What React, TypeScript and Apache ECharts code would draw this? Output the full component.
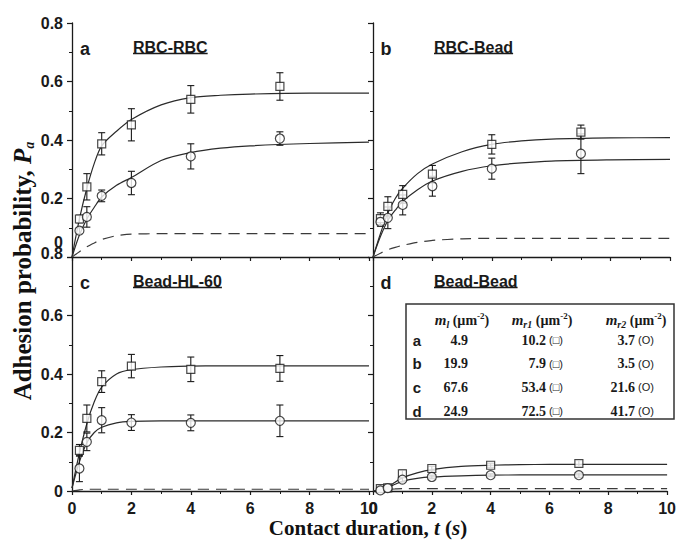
import React, { useEffect, useRef } from 'react';
import * as echarts from 'echarts';

// ---------- data ----------
const sampleTimes = [0.25, 0.5, 1, 2, 4, 7];
const curveTimes = [0, 0.25, 0.5, 0.75, 1, 1.5, 2, 3, 4, 5, 6, 8, 10];

const panelLetters = ['a', 'b', 'c', 'd'];
const panelNames = ['RBC-RBC', 'RBC-Bead', 'Bead-HL-60', 'Bead-Bead'];

// panel a
const squareA = [0.13, 0.24, 0.387, 0.452, 0.539, 0.583];
const squareErrA = [0.013, 0.045, 0.038, 0.055, 0.047, 0.047];
const circleA = [0.09, 0.137, 0.209, 0.253, 0.344, 0.405];
const circleErrA = [0.01, 0.035, 0.02, 0.04, 0.043, 0.023];
const squareCurveA = [0, 0.13, 0.235, 0.32, 0.38, 0.43, 0.47, 0.52, 0.545, 0.553, 0.557, 0.56, 0.56];
const circleCurveA = [0, 0.075, 0.13, 0.17, 0.205, 0.245, 0.272, 0.33, 0.357, 0.372, 0.38, 0.388, 0.393];
const dashCurveA = [0, 0.018, 0.035, 0.048, 0.06, 0.073, 0.078, 0.08, 0.08, 0.08, 0.08, 0.08, 0.08];

// panel b
const squareB = [0.131, 0.173, 0.214, 0.283, 0.385, 0.427];
const squareErrB = [0.02, 0.033, 0.03, 0.03, 0.033, 0.024];
const circleB = [0.12, 0.134, 0.178, 0.242, 0.302, 0.353];
const circleErrB = [0.015, 0.037, 0.034, 0.034, 0.036, 0.068];
const squareCurveB = [0, 0.08, 0.15, 0.2, 0.235, 0.285, 0.318, 0.36, 0.385, 0.397, 0.403, 0.407, 0.408];
const circleCurveB = [0, 0.07, 0.125, 0.16, 0.19, 0.23, 0.26, 0.293, 0.312, 0.322, 0.328, 0.332, 0.334];
const dashCurveB = [0, 0.013, 0.025, 0.033, 0.04, 0.05, 0.057, 0.062, 0.064, 0.064, 0.064, 0.064, 0.064];

// panel c
const squareC = [0.139, 0.248, 0.374, 0.427, 0.416, 0.419];
const squareErrC = [0.02, 0.046, 0.037, 0.04, 0.042, 0.044];
const circleC = [0.077, 0.168, 0.242, 0.234, 0.233, 0.24];
const circleErrC = [0.045, 0.03, 0.043, 0.027, 0.027, 0.054];
const squareCurveC = [0.01, 0.13, 0.23, 0.305, 0.355, 0.4, 0.415, 0.424, 0.427, 0.428, 0.428, 0.428, 0.428];
const circleCurveC = [0.01, 0.1, 0.165, 0.2, 0.218, 0.233, 0.238, 0.24, 0.24, 0.24, 0.24, 0.24, 0.24];
const dashCurveC = [0, 0.004, 0.006, 0.006, 0.006, 0.006, 0.006, 0.006, 0.006, 0.006, 0.006, 0.006, 0.006];

// panel d
const squareD = [0.008, 0.011, 0.059, 0.077, 0.088, 0.094];
const squareErrD = [0.004, 0.004, 0.012, 0.008, 0.007, 0.01];
const circleD = [0.002, 0.01, 0.039, 0.048, 0.054, 0.054];
const circleErrD = [0.003, 0.004, 0.008, 0.006, 0.005, 0.007];
const squareCurveD = [0, 0.005, 0.015, 0.03, 0.045, 0.062, 0.073, 0.084, 0.088, 0.09, 0.091, 0.091, 0.091];
const circleCurveD = [0, 0.004, 0.012, 0.023, 0.033, 0.043, 0.048, 0.052, 0.054, 0.055, 0.055, 0.055, 0.055];
const dashCurveD = [0, 0.004, 0.006, 0.007, 0.008, 0.008, 0.008, 0.008, 0.008, 0.008, 0.008, 0.008, 0.008];

// inset table
const tableRows = ['a', 'b', 'c', 'd'];
const tableMl = ['4.9', '19.9', '67.6', '24.9'];
const tableMr1 = ['10.2', '7.9', '53.4', '72.5'];
const tableMr2 = ['3.7', '3.5', '21.6', '41.7'];

const panels = [
  { sq: squareA, sqErr: squareErrA, ci: circleA, ciErr: circleErrA, sqCurve: squareCurveA, ciCurve: circleCurveA, dash: dashCurveA },
  { sq: squareB, sqErr: squareErrB, ci: circleB, ciErr: circleErrB, sqCurve: squareCurveB, ciCurve: circleCurveB, dash: dashCurveB },
  { sq: squareC, sqErr: squareErrC, ci: circleC, ciErr: circleErrC, sqCurve: squareCurveC, ciCurve: circleCurveC, dash: dashCurveC },
  { sq: squareD, sqErr: squareErrD, ci: circleD, ciErr: circleErrD, sqCurve: squareCurveD, ciCurve: circleCurveD, dash: dashCurveD },
];

// ---------- styling ----------
const SANS = "'Liberation Sans', Arial, sans-serif";
const SERIF = "'Liberation Serif', 'Times New Roman', serif";
const INK = '#1a1a1a';
const LINE = '#2b2b2b';

const gridBoxes = [
  { left: 72, top: 23, width: 297, height: 234 },
  { left: 373, top: 23, width: 297, height: 234 },
  { left: 72, top: 257, width: 297, height: 234 },
  { left: 373, top: 257, width: 297, height: 234 },
];

function measure(text: string, font: string): number {
  const c = document.createElement('canvas');
  const ctx = c.getContext('2d');
  if (!ctx) return text.length * 9;
  ctx.font = font;
  return ctx.measureText(text).width;
}

function errorBarSeries(idx: number, xs: number[], ys: number[], es: number[]) {
  return {
    type: 'custom',
    xAxisIndex: idx,
    yAxisIndex: idx,
    z: 3,
    silent: true,
    encode: { x: 0, y: [1, 2] },
    data: xs.map((t, i) => [t, ys[i] - es[i], ys[i] + es[i]]),
    renderItem: (params: any, api: any) => {
      const x = api.value(0);
      const p1 = api.coord([x, api.value(1)]);
      const p2 = api.coord([x, api.value(2)]);
      const w = 3.5;
      const style = { stroke: INK, lineWidth: 1.1, fill: 'none' };
      return {
        type: 'group',
        children: [
          { type: 'line', shape: { x1: p1[0], y1: p1[1], x2: p2[0], y2: p2[1] }, style },
          { type: 'line', shape: { x1: p1[0] - w, y1: p1[1], x2: p1[0] + w, y2: p1[1] }, style },
          { type: 'line', shape: { x1: p2[0] - w, y1: p2[1], x2: p2[0] + w, y2: p2[1] }, style },
        ],
      };
    },
  };
}

function buildOption() {
  const tickFont = { fontFamily: SANS, fontWeight: 'bold' as const, fontSize: 16, color: INK };

  const xAxis = gridBoxes.map((_, i) => ({
    type: 'value',
    gridIndex: i,
    min: 0,
    max: 10,
    interval: 2,
    axisLine: { show: true, onZero: false, lineStyle: { color: INK, width: 1.3 } },
    axisTick: { show: true, inside: false, length: 4, lineStyle: { color: INK, width: 1.2 } },
    minorTick: { show: true, splitNumber: 2, length: 3, lineStyle: { color: INK, width: 1 } },
    splitLine: { show: false },
    axisLabel: {
      show: i >= 2,
      margin: 9,
      showMinLabel: true,
      showMaxLabel: true,
      ...tickFont,
    },
  }));

  const yAxis = gridBoxes.map((_, i) => ({
    type: 'value',
    gridIndex: i,
    min: 0,
    max: 0.8,
    interval: 0.2,
    axisLine: { show: true, onZero: false, lineStyle: { color: INK, width: 1.3 } },
    axisTick: { show: true, inside: false, length: 5, lineStyle: { color: INK, width: 1.2 } },
    minorTick: { show: true, splitNumber: 2, length: 3, lineStyle: { color: INK, width: 1 } },
    splitLine: { show: false },
    axisLabel: {
      show: i === 0 || i === 2,
      margin: 9,
      showMinLabel: true,
      showMaxLabel: true,
      ...tickFont,
      formatter: (v: number) => {
        const s = v === 0 ? '0' : v.toFixed(1);
        if (i === 0 && v === 0) return '{up|' + s + '}';
        if (i === 2 && Math.abs(v - 0.8) < 1e-9) return '{up2|' + s + '}';
        return s;
      },
      rich: {
        up: { ...tickFont, padding: [0, 0, 30, 0] },
        up2: { ...tickFont, padding: [0, 0, 8, 0] },
      },
    },
  }));

  const series: any[] = [];
  panels.forEach((p, i) => {
    const curve = (vals: number[], dashed: boolean) => ({
      type: 'line',
      xAxisIndex: i,
      yAxisIndex: i,
      data: curveTimes.map((t, j) => [t, vals[j]]),
      smooth: dashed ? 0.2 : 0.3,
      symbol: 'none',
      silent: true,
      z: 2,
      lineStyle: dashed
        ? { color: '#3a3a3a', width: 1.2, type: [11, 7] }
        : { color: LINE, width: 1.2 },
    });
    series.push(curve(p.sqCurve, false));
    series.push(curve(p.ciCurve, false));
    series.push(curve(p.dash, true));
    series.push(errorBarSeries(i, sampleTimes, p.sq, p.sqErr));
    series.push(errorBarSeries(i, sampleTimes, p.ci, p.ciErr));
    series.push({
      type: 'scatter',
      xAxisIndex: i,
      yAxisIndex: i,
      symbol: 'rect',
      symbolSize: 8,
      z: 4,
      data: sampleTimes.map((t, j) => [t, p.sq[j]]),
      itemStyle: { color: '#ffffff', borderColor: INK, borderWidth: 1.2 },
    });
    series.push({
      type: 'scatter',
      xAxisIndex: i,
      yAxisIndex: i,
      symbol: 'circle',
      symbolSize: 9,
      z: 4,
      data: sampleTimes.map((t, j) => [t, p.ci[j]]),
      itemStyle: { color: '#ffffff', borderColor: INK, borderWidth: 1.2 },
    });
  });

  const graphic: any[] = [];
  const titleFont = `bold 16px ${SANS}`;
  gridBoxes.forEach((g, i) => {
    graphic.push({
      type: 'text',
      x: g.left + 13,
      y: g.top + 26,
      z: 10,
      style: {
        text: panelLetters[i],
        fontFamily: SANS,
        fontWeight: 'bold',
        fontSize: 18,
        fill: INK,
        align: 'center',
        verticalAlign: 'middle',
      },
    });
    const tx = g.left + 61;
    const tw = measure(panelNames[i], titleFont);
    graphic.push({
      type: 'text',
      x: tx,
      y: g.top + 24,
      z: 10,
      style: {
        text: panelNames[i],
        fontFamily: SANS,
        fontWeight: 'bold',
        fontSize: 16,
        fill: INK,
        align: 'left',
        verticalAlign: 'middle',
      },
    });
    graphic.push({
      type: 'line',
      z: 10,
      shape: { x1: tx, y1: g.top + 30.5, x2: tx + tw, y2: g.top + 30.5 },
      style: { stroke: INK, lineWidth: 1.5 },
    });
  });

  // axis titles
  graphic.push({
    type: 'text',
    x: 368,
    y: 528,
    z: 10,
    style: {
      text: '{n|Contact duration, }{i|t}{n| (}{i|s}{n|)}',
      align: 'center',
      verticalAlign: 'middle',
      rich: {
        n: { fontFamily: SERIF, fontWeight: 'bold', fontSize: 21, fill: '#111' },
        i: { fontFamily: SERIF, fontWeight: 'bold', fontStyle: 'italic', fontSize: 21, fill: '#111' },
      },
    },
  });
  graphic.push({
    type: 'text',
    x: 22,
    y: 271,
    rotation: Math.PI / 2,
    z: 10,
    style: {
      text: '{n|Adhesion probability, }{i|P}{sub|a}',
      align: 'center',
      verticalAlign: 'middle',
      rich: {
        n: { fontFamily: SERIF, fontWeight: 'bold', fontSize: 25, lineHeight: 28, fill: '#111' },
        i: { fontFamily: SERIF, fontWeight: 'bold', fontStyle: 'italic', fontSize: 25, lineHeight: 28, fill: '#111' },
        sub: { fontFamily: SERIF, fontWeight: 'bold', fontStyle: 'italic', fontSize: 14, lineHeight: 14, verticalAlign: 'bottom', fill: '#111' },
      },
    },
  });

  // inset table
  const tb = { x: 406, y: 304, w: 268, h: 115 };
  graphic.push({
    type: 'rect',
    z: 9,
    shape: { x: tb.x, y: tb.y, width: tb.w, height: tb.h },
    style: { fill: '#ffffff', stroke: '#333333', lineWidth: 1.5 },
  });
  const headerRich = {
    m: { fontFamily: SERIF, fontWeight: 'bold', fontStyle: 'italic', fontSize: 15, lineHeight: 18, fill: INK },
    sub: { fontFamily: SERIF, fontWeight: 'bold', fontStyle: 'italic', fontSize: 10, lineHeight: 10, verticalAlign: 'bottom', fill: INK },
    p: { fontFamily: SERIF, fontWeight: 'bold', fontSize: 14, lineHeight: 18, fill: INK },
    sup: { fontFamily: SERIF, fontWeight: 'bold', fontSize: 9, lineHeight: 9, verticalAlign: 'top', fill: INK },
  };
  const headers = [
    { x: 462, t: '{m|m}{sub|l}{p| (µm}{sup|-2}{p|)}' },
    { x: 542, t: '{m|m}{sub|r1}{p| (µm}{sup|-2}{p|)}' },
    { x: 636, t: '{m|m}{sub|r2}{p| (µm}{sup|-2}{p|)}' },
  ];
  headers.forEach((h) => {
    graphic.push({
      type: 'text',
      x: h.x,
      y: 320,
      z: 11,
      style: { text: h.t, align: 'center', verticalAlign: 'middle', rich: headerRich },
    });
  });
  const rowY = [340, 363.5, 387, 411];
  const numRich = {
    n: { fontFamily: SERIF, fontWeight: 'bold', fontSize: 14, fill: INK },
    s: { fontFamily: SANS, fontSize: 11, fill: INK },
  };
  tableRows.forEach((r, k) => {
    graphic.push({
      type: 'text', x: 417, y: rowY[k], z: 11,
      style: { text: r, fontFamily: SANS, fontWeight: 'bold', fontSize: 15, fill: INK, align: 'center', verticalAlign: 'middle' },
    });
    graphic.push({
      type: 'text', x: 468, y: rowY[k], z: 11,
      style: { text: '{n|' + tableMl[k] + '}', align: 'right', verticalAlign: 'middle', rich: numRich },
    });
    graphic.push({
      type: 'text', x: 563, y: rowY[k], z: 11,
      style: { text: '{n|' + tableMr1[k] + '}{s| (□)}', align: 'right', verticalAlign: 'middle', rich: numRich },
    });
    graphic.push({
      type: 'text', x: 654, y: rowY[k], z: 11,
      style: { text: '{n|' + tableMr2[k] + '}{s| (O)}', align: 'right', verticalAlign: 'middle', rich: numRich },
    });
  });

  return {
    animation: false,
    backgroundColor: '#ffffff',
    grid: gridBoxes.map((g) => ({ ...g, containLabel: false })),
    xAxis,
    yAxis,
    series,
    graphic,
  };
}

export default function App() {
  const ref = useRef<HTMLDivElement>(null);
  useEffect(() => {
    if (!ref.current) return;
    const chart = echarts.init(ref.current, undefined, { renderer: 'svg' });
    chart.setOption(buildOption() as any);
    return () => chart.dispose();
  }, []);
  return (
    <div
      ref={ref}
      style={{ position: 'fixed', left: 0, top: 0, width: 679, height: 546, background: '#fff' }}
    />
  );
}
